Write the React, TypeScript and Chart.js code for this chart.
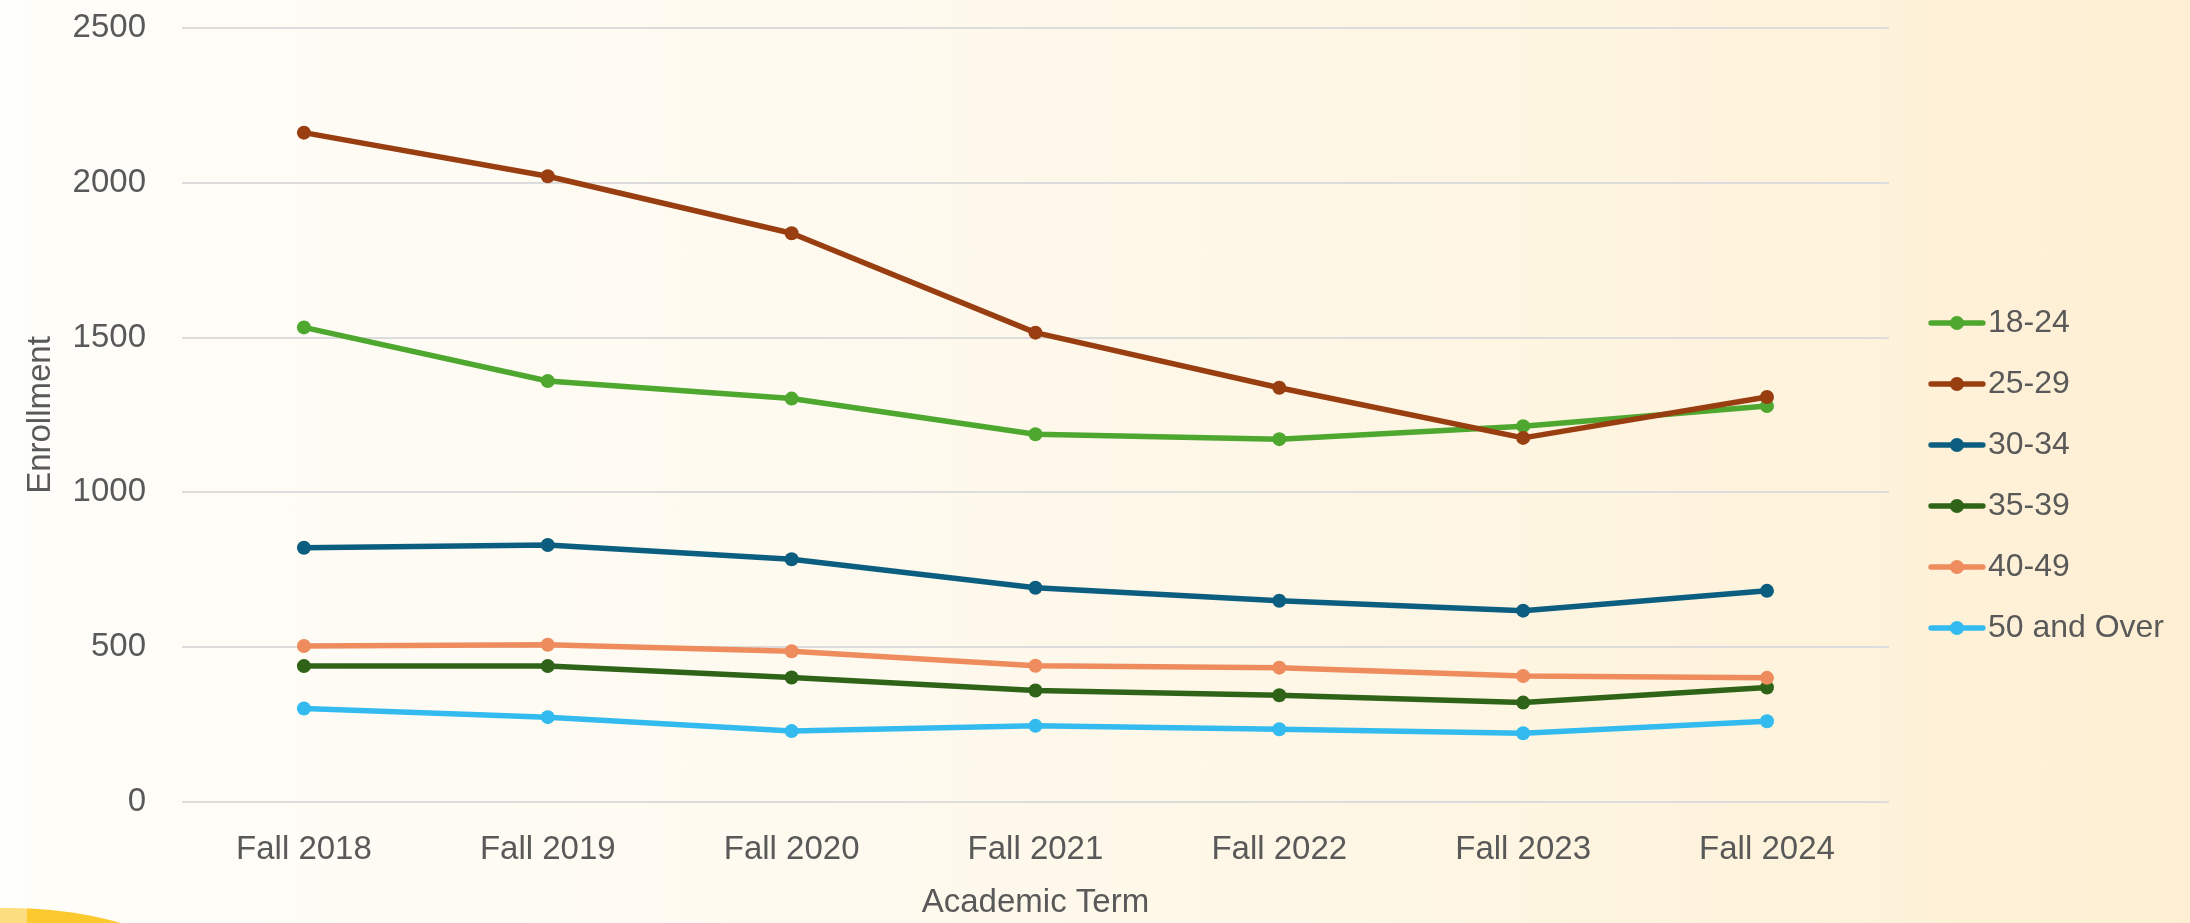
import React, { useEffect, useRef } from "react";
import { Chart, registerables } from "chart.js";

Chart.register(...registerables);

// ---- data ----
const terms = ["Fall 2018", "Fall 2019", "Fall 2020", "Fall 2021", "Fall 2022", "Fall 2023", "Fall 2024"];
const age18to24 = [1533, 1360, 1303, 1188, 1172, 1214, 1279];
const age25to29 = [2162, 2021, 1837, 1516, 1338, 1176, 1308];
const age30to34 = [821, 830, 784, 692, 650, 618, 682];
const age35to39 = [439, 439, 402, 360, 345, 321, 370];
const age40to49 = [504, 508, 487, 440, 434, 407, 401];
const age50plus = [302, 274, 229, 246, 235, 222, 261];
const seriesNames = ["18-24", "25-29", "30-34", "35-39", "40-49", "50 and Over"];
const seriesColors = ["#4EA72E", "#993E10", "#0B5E7F", "#2F6418", "#EE8C5E", "#33BBEF"];
const yTickValues = [0, 500, 1000, 1500, 2000, 2500];

const TEXT = "#595959";
const FONT = "'Liberation Sans', Arial, sans-serif";

function makeLegendIcon(color: string) {
  const c = document.createElement("canvas");
  c.width = 58;
  c.height = 16;
  const g = c.getContext("2d")!;
  g.strokeStyle = color;
  g.lineWidth = 5.3;
  g.lineCap = "round";
  g.beginPath();
  g.moveTo(3, 8);
  g.lineTo(55, 8);
  g.stroke();
  g.fillStyle = color;
  g.beginPath();
  g.arc(29, 8, 7, 0, Math.PI * 2);
  g.fill();
  return c;
}

export default function App() {
  const ref = useRef<HTMLCanvasElement | null>(null);

  useEffect(() => {
    document.body.style.margin = "0";
    const values = [age18to24, age25to29, age30to34, age35to39, age40to49, age50plus];
    const icons = seriesColors.map((c) => makeLegendIcon(c));
    const chart = new Chart(ref.current!, {
      type: "line",
      data: {
        labels: terms,
        datasets: seriesNames.map((name, i) => ({
          label: name,
          data: values[i],
          borderColor: seriesColors[i],
          backgroundColor: seriesColors[i],
          pointBackgroundColor: seriesColors[i],
          pointBorderColor: seriesColors[i],
          pointBorderWidth: 0,
          pointRadius: 7,
          borderWidth: 5.5,
          borderJoinStyle: "round",
          borderCapStyle: "round",
          tension: 0,
          fill: false,
          order: seriesNames.length - i,
        })),
      },
      options: {
        animation: false,
        responsive: false,
        devicePixelRatio: 1,
        events: [],
        layout: { padding: { top: 28, right: 16, bottom: 0, left: 0 } },
        scales: {
          x: {
            offset: true,
            grid: { display: false, drawTicks: false },
            border: { display: false },
            ticks: { padding: 28, color: TEXT, font: { family: FONT, size: 33 }, maxRotation: 0 },
            title: {
              display: true,
              text: "Academic Term",
              color: TEXT,
              font: { family: FONT, size: 33 },
              padding: { top: 0, bottom: 0 },
            },
            afterFit: (s: any) => {
              s.height = 121;
            },
          },
          y: {
            min: yTickValues[0],
            max: yTickValues[yTickValues.length - 1],
            ticks: {
              stepSize: yTickValues[1] - yTickValues[0],
              padding: 36,
              color: TEXT,
              font: { family: FONT, size: 33 },
              callback: (v: any) => String(v),
            },
            grid: { color: "#DCDCDC", lineWidth: 2, drawTicks: false },
            border: { display: false },
            title: {
              display: true,
              text: "Enrollment",
              color: TEXT,
              font: { family: FONT, size: 33 },
              padding: { top: 21, bottom: 0 },
            },
            afterFit: (s: any) => {
              s.width = 182;
              s.paddingTop = 0;
              s.paddingBottom = 0;
            },
          },
          y2: {
            position: "right",
            display: true,
            grid: { display: false, drawTicks: false },
            border: { display: false },
            ticks: { display: false },
            afterFit: (s: any) => {
              s.width = 24;
            },
          },
        },
        plugins: {
          tooltip: { enabled: false },
          legend: {
            position: "right",
            labels: {
              usePointStyle: true,
              pointStyleWidth: 30,
              padding: 29,
              color: TEXT,
              font: { family: FONT, size: 32 },
              generateLabels: (ch: any) =>
                ch.data.datasets.map((ds: any, i: number) => ({
                  text: ds.label,
                  fillStyle: ds.borderColor,
                  strokeStyle: ds.borderColor,
                  lineWidth: 0,
                  pointStyle: icons[i],
                  hidden: !ch.isDatasetVisible(i),
                  datasetIndex: i,
                  fontColor: TEXT,
                })),
            },
          },
        },
      } as any,
    });
    return () => chart.destroy();
  }, []);

  return (
    <div
      style={{
        position: "fixed",
        left: 0,
        top: 0,
        width: 2190,
        height: 923,
        overflow: "hidden",
        background: "linear-gradient(90deg, #FEFDF9 0%, #FEFAF0 35%, #FEF6E4 65%, #FEEFD3 100%)",
      }}
    >
      <div
        style={{
          position: "absolute",
          left: -410,
          top: 908,
          width: 840,
          height: 840,
          borderRadius: "50%",
          background: "#FBC92E",
        }}
      />
      <div
        style={{
          position: "absolute",
          left: 0,
          top: 0,
          width: 27,
          height: 923,
          background: "rgba(255,255,255,0.4)",
        }}
      />
      <canvas ref={ref} width={2190} height={923} style={{ position: "absolute", left: 0, top: 0 }} />
    </div>
  );
}
